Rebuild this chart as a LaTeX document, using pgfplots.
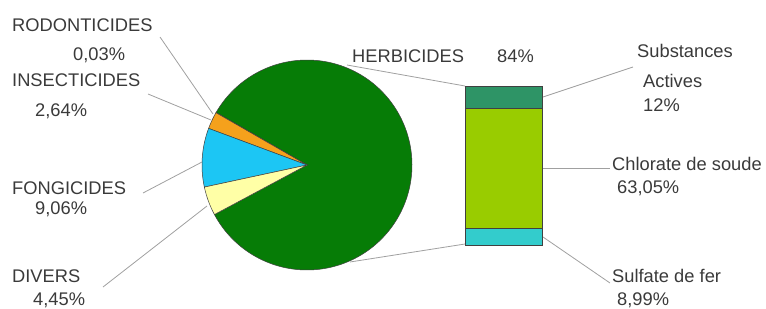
\documentclass[border=0pt]{standalone}
\usepackage{pgfplots}
\pgfplotsset{compat=1.18}
\usepackage{fontspec}
\setmainfont{Liberation Sans}
\definecolor{cHerb}{HTML}{067C06}
\definecolor{cIns}{HTML}{F5A11C}
\definecolor{cFon}{HTML}{1CC6F4}
\definecolor{cDiv}{HTML}{FFFFA6}
\definecolor{cSubst}{HTML}{2E9466}
\definecolor{cChlor}{HTML}{99CC00}
\definecolor{cSulf}{HTML}{33CCCC}
\definecolor{txt}{HTML}{3A3A3A}
\definecolor{lead}{HTML}{A0A0A0}
\begin{document}
\begin{tikzpicture}
\path[use as bounding box] (0,0) rectangle (766bp,-309bp);
% pie angles from the percentages
\pgfmathsetmacro\k{360/100.18}
\pgfmathsetmacro\aA{150}
\pgfmathsetmacro\aB{\aA+0.03*\k}
\pgfmathsetmacro\aC{\aB+2.64*\k}
\pgfmathsetmacro\aD{\aC+9.06*\k}
\pgfmathsetmacro\aE{\aD+4.45*\k}
\pgfmathsetmacro\aF{\aE+84*\k}
\begin{axis}[at={(307bp,-165bp)}, anchor=origin, x=105bp, y=105bp,
  xmin=-1, xmax=1, ymin=-1, ymax=1, hide axis, clip=false]
\addplot[fill=cHerb, draw=black!75, line width=0.5pt, domain=\aE:\aF, samples=150, variable=\t] ({cos(\t)},{sin(\t)}) -- (0,0) -- cycle;
\addplot[fill=black, draw=black!75, line width=0.5pt, domain=\aA:\aB, samples=2, variable=\t] ({cos(\t)},{sin(\t)}) -- (0,0) -- cycle;
\addplot[fill=cIns, draw=black!75, line width=0.5pt, domain=\aB:\aC, samples=10, variable=\t] ({cos(\t)},{sin(\t)}) -- (0,0) -- cycle;
\addplot[fill=cFon, draw=black!75, line width=0.5pt, domain=\aC:\aD, samples=30, variable=\t] ({cos(\t)},{sin(\t)}) -- (0,0) -- cycle;
\addplot[fill=cDiv, draw=black!75, line width=0.5pt, domain=\aD:\aE, samples=20, variable=\t] ({cos(\t)},{sin(\t)}) -- (0,0) -- cycle;
\end{axis}
\begin{axis}[at={(503.5bp,-245bp)}, anchor=origin, x=1bp, y={159bp/84.04},
  xmin=-1, xmax=1, ymin=0, ymax=84.04, hide axis, clip=false,
  ybar stacked, bar width=77bp]
\addplot[fill=cSulf, draw=black!75, line width=0.6pt] coordinates {(0,8.99)};
\addplot[fill=cChlor, draw=black!75, line width=0.6pt] coordinates {(0,63.05)};
\addplot[fill=cSubst, draw=black!75, line width=0.6pt] coordinates {(0,12)};
\end{axis}
\begin{scope}[x=1bp, y=-1bp]
\draw[lead, line width=0.8bp] (160,37) -- (213,114);
\draw[lead, line width=0.8bp] (148,94) -- (211,120);
\draw[lead, line width=0.8bp] (143,193) -- (202,162);
\draw[lead, line width=0.8bp] (103,287) -- (207,206);
\draw[lead, line width=0.8bp] (347,65) -- (465,86);
\draw[lead, line width=0.8bp] (350,262) -- (465,244);
\draw[lead, line width=0.8bp] (543,97) -- (633,67);
\draw[lead, line width=0.8bp] (543,168) -- (610,168);
\draw[lead, line width=0.8bp] (543,237) -- (610,283);
\tikzset{lab/.style={anchor=base west, inner sep=0pt, text=txt, font=\fontsize{18.3bp}{22bp}\selectfont}}
\node[lab] at (12,31) {RODONTICIDES};
\node[lab] at (73,60) {0,03\%};
\node[lab] at (12,86) {INSECTICIDES};
\node[lab] at (35,116.5) {2,64\%};
\node[lab] at (12,194) {FONGICIDES};
\node[lab] at (35,214) {9,06\%};
\node[lab] at (12,282) {DIVERS};
\node[lab] at (33,305) {4,45\%};
\node[lab] at (352,62) {HERBICIDES};
\node[lab] at (497,62) {84\%};
\node[lab] at (637,57) {Substances};
\node[lab] at (643,87.5) {Actives};
\node[lab] at (643,111.5) {12\%};
\node[lab] at (612,170) {Chlorate de soude};
\node[lab] at (617,193) {63,05\%};
\node[lab] at (612,282) {Sulfate de fer};
\node[lab] at (617,305) {8,99\%};
\end{scope}
\end{tikzpicture}
\end{document}
